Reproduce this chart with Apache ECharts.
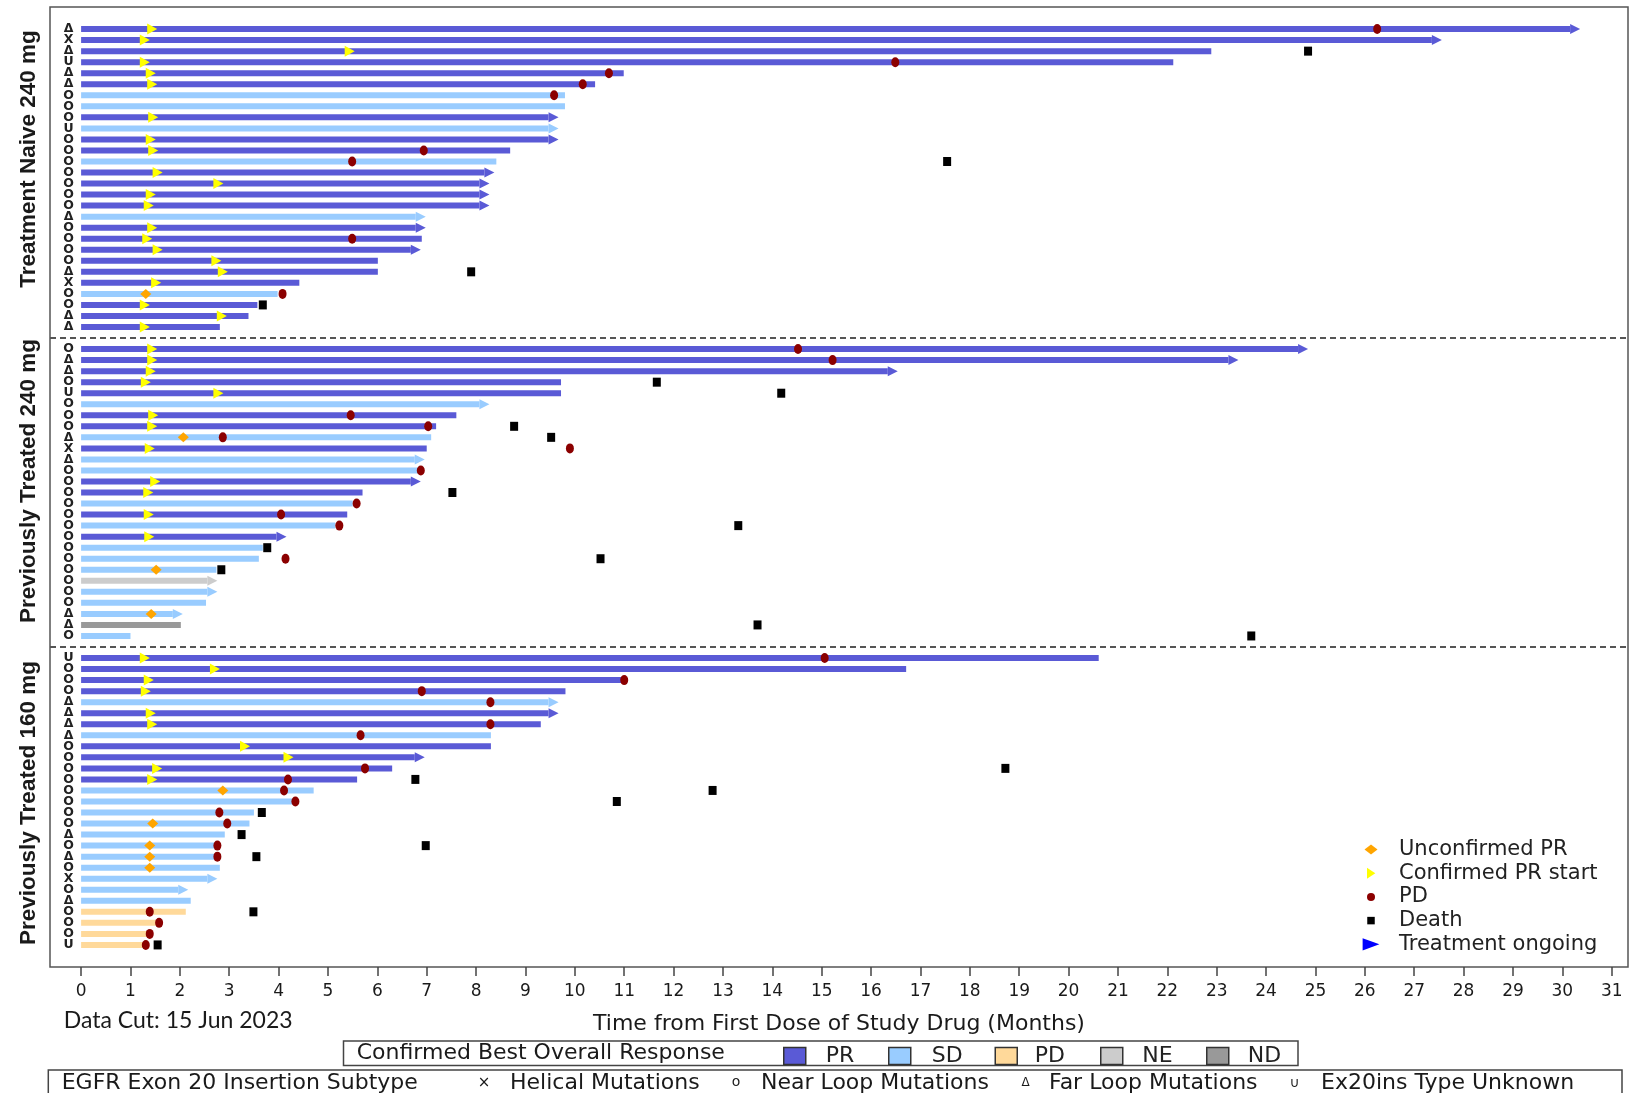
<!DOCTYPE html>
<html>
<head>
<meta charset="utf-8">
<script src="https://cdn.jsdelivr.net/npm/echarts@6/dist/echarts.min.js"></script>
<style>
html,body{margin:0;padding:0;background:#fff;}
#chart{width:1630px;height:1093px;}
</style>
</head>
<body>
<div id="chart"></div>
<script>
// ================= DATA =================
const panelTitles = ['Treatment Naive 240 mg', 'Previously Treated 240 mg', 'Previously Treated 160 mg'];
const monthTicks = [0,1,2,3,4,5,6,7,8,9,10,11,12,13,14,15,16,17,18,19,20,21,22,23,24,25,26,27,28,29,30,31];
const responseTypes = ['PR', 'SD', 'PD', 'NE', 'ND'];

// --- Panel 1: Treatment Naive 240 mg ---
const subtypeA = ['Δ','X','Δ','U','Δ','Δ','O','O','O','U','O','O','O','O','O','O','O','Δ','O','O','O','O','Δ','X','O','O','Δ','Δ'];
const responseA = ['PR','PR','PR','PR','PR','PR','SD','SD','PR','SD','PR','PR','SD','PR','PR','PR','PR','SD','PR','PR','PR','PR','PR','PR','SD','PR','PR','PR'];
const durationA = [30.36,27.56,22.89,22.12,10.99,10.41,9.80,9.80,9.67,9.67,9.67,8.69,8.41,8.37,8.27,8.27,8.27,6.98,6.98,6.90,6.88,6.01,6.01,4.42,3.98,3.57,3.39,2.81];
const ongoingA = [1,1,0,0,0,0,0,0,1,1,1,0,0,1,1,1,1,1,1,0,1,0,0,0,0,0,0,0];
const confirmedPRA = [1.44,1.29,5.44,1.29,1.41,1.44,null,null,1.46,null,1.41,1.46,null,1.55,2.78,1.41,1.37,null,1.44,1.34,1.55,2.74,2.87,1.52,null,1.29,2.85,1.29];
const unconfirmedPRA = [[24,1.31]];
const progressionA = [[0,26.25],[3,16.49],[4,10.69],[5,10.16],[6,9.58],[11,6.94],[12,5.49],[19,5.49],[24,4.08]];
const deathA = [[2,24.85],[12,17.54],[22,7.90],[25,3.68]];

// --- Panel 2: Previously Treated 240 mg ---
const subtypeB = ['O','Δ','Δ','O','U','O','O','O','Δ','X','Δ','O','O','O','O','O','O','O','O','O','O','O','O','O','Δ','Δ','O'];
const responseB = ['PR','PR','PR','PR','PR','SD','PR','PR','SD','PR','SD','SD','PR','PR','SD','PR','SD','PR','SD','SD','SD','NE','SD','SD','SD','ND','SD'];
const durationB = [24.85,23.44,16.54,9.72,9.72,8.27,7.60,7.19,7.09,7.00,6.96,6.85,6.88,5.70,5.50,5.39,5.15,4.16,3.68,3.60,2.74,2.76,2.76,2.53,2.06,2.02,1.00];
const ongoingB = [1,1,1,0,0,1,0,0,0,0,1,0,1,0,0,0,0,1,0,0,0,1,1,0,1,0,0];
const confirmedPRB = [1.44,1.44,1.41,1.31,2.78,null,1.46,1.44,null,1.39,null,null,1.50,1.36,null,1.37,null,1.38,null,null,null,null,null,null,null,null,null];
const unconfirmedPRB = [[8,2.07],[20,1.52],[24,1.42]];
const progressionB = [[0,14.52],[1,15.22],[6,5.46],[7,7.03],[8,2.87],[9,9.90],[11,6.88],[14,5.58],[15,4.05],[16,5.23],[19,4.14]];
const deathB = [[3,11.66],[4,14.18],[7,8.77],[8,9.52],[13,7.52],[16,13.31],[18,3.77],[19,10.52],[20,2.84],[25,13.70],[26,23.70]];

// --- Panel 3: Previously Treated 160 mg ---
const subtypeC = ['U','O','O','O','Δ','Δ','Δ','Δ','O','O','O','O','O','O','O','O','Δ','O','Δ','O','X','O','Δ','O','O','O','U'];
const responseC = ['PR','PR','PR','PR','SD','PR','PR','SD','PR','PR','PR','PR','SD','SD','SD','SD','SD','SD','SD','SD','SD','SD','SD','PD','PD','PD','PD'];
const durationC = [20.61,16.71,11.03,9.81,9.67,9.67,9.31,8.30,8.30,6.96,6.30,5.59,4.71,4.30,3.50,3.41,2.91,2.75,2.75,2.81,2.76,2.17,2.22,2.12,1.55,1.35,1.30];
const ongoingC = [0,0,0,0,1,1,0,0,0,1,0,0,0,0,0,0,0,0,0,0,1,1,0,0,0,0,0];
const confirmedPRC = [1.29,2.71,1.37,1.31,null,1.41,1.44,null,3.32,4.20,1.54,1.44,null,null,null,null,null,null,null,null,null,null,null,null,null,null,null];
const unconfirmedPRC = [[12,2.87],[15,1.45],[17,1.39],[18,1.39],[19,1.39]];
const progressionC = [[0,15.06],[2,11.00],[3,6.90],[4,8.29],[6,8.29],[7,5.66],[10,5.75],[11,4.19],[12,4.11],[13,4.34],[14,2.80],[15,2.96],[17,2.76],[18,2.76],[23,1.39],[24,1.58],[25,1.39],[26,1.31]];
const deathC = [[10,18.72],[11,6.77],[12,12.79],[13,10.85],[14,3.66],[16,3.25],[17,6.98],[18,3.55],[23,3.49],[26,1.55]];

// ================= BUILD =================
const panels = [
  {sub: subtypeA, resp: responseA, dur: durationA, ong: ongoingA, cpr: confirmedPRA, upr: unconfirmedPRA, pd: progressionA, death: deathA},
  {sub: subtypeB, resp: responseB, dur: durationB, ong: ongoingB, cpr: confirmedPRB, upr: unconfirmedPRB, pd: progressionB, death: deathB},
  {sub: subtypeC, resp: responseC, dur: durationC, ong: ongoingC, cpr: confirmedPRC, upr: unconfirmedPRC, pd: progressionC, death: deathC}
];
const respColors = {PR: '#5a5ad6', SD: '#99ccff', PD: '#ffd99a', NE: '#cccccc', ND: '#999999'};
const respSeriesName = {PR: 'PR', SD: 'SD', PD: 'PD response', NE: 'NE', ND: 'ND'};

// each panel starts after previous panel plus one gap row
const rowStart = [];
let acc = 0;
panels.forEach((p, k) => { rowStart.push(acc); acc += p.sub.length + 1; });
const dividerRows = [rowStart[1] - 1, rowStart[2] - 1];

const rowLabel = {};
const barData = {PR: [], SD: [], PD: [], NE: [], ND: []};
const arrowData = [];
const cprData = [], uprData = [], pdData = [], deathData = [];
panels.forEach((p, k) => {
  const off = rowStart[k];
  p.sub.forEach((s, i) => { rowLabel[off + i] = s; });
  p.resp.forEach((r, i) => {
    barData[r].push([p.dur[i], off + i, p.ong[i]]);
    if (p.ong[i]) arrowData.push({value: [p.dur[i], off + i], itemStyle: {color: respColors[r]}});
  });
  p.cpr.forEach((m, i) => { if (m != null) cprData.push([m, off + i]); });
  p.upr.forEach(e => uprData.push([e[1], off + e[0]]));
  p.pd.forEach(e => pdData.push([e[1], off + e[0]]));
  p.death.forEach(e => deathData.push([e[1], off + e[0]]));
});

const BAR_H = 6, HEAD_L = 10, HEAD_H = 10;
function renderBar(params, api) {
  const end = api.value(0), y = api.value(1), ong = api.value(2);
  const a = api.coord([0, y]), b = api.coord([end, y]);
  const x1 = ong ? b[0] - HEAD_L : b[0];
  return {type: 'rect', shape: {x: a[0], y: a[1] - BAR_H / 2, width: Math.max(0, x1 - a[0]), height: BAR_H},
          style: {fill: api.visual('color')}};
}
function renderArrow(params, api) {
  const b = api.coord([api.value(0), api.value(1)]);
  return {type: 'polygon', shape: {points: [[b[0] - HEAD_L, b[1] - HEAD_H / 2], [b[0], b[1]], [b[0] - HEAD_L, b[1] + HEAD_H / 2]]},
          style: {fill: api.visual('color')}};
}

const FONT = 'DejaVu Sans';
const series = [];
responseTypes.forEach(r => {
  series.push({
    type: 'custom', name: respSeriesName[r], renderItem: renderBar,
    encode: {x: 0, y: 1}, data: barData[r], itemStyle: {color: respColors[r]}, z: 2, silent: true
  });
});
series.push({
  type: 'custom', name: 'Treatment ongoing', renderItem: renderArrow,
  encode: {x: 0, y: 1}, data: arrowData, z: 2, silent: true, itemStyle: {color: '#0000ff'}
});
series.push({type: 'scatter', name: 'Confirmed PR start', data: cprData, symbol: 'triangle', symbolRotate: -90,
  symbolSize: [11, 10], itemStyle: {color: '#ffff00', opacity: 1}, z: 3, silent: true});
series.push({type: 'scatter', name: 'Unconfirmed PR', data: uprData, symbol: 'diamond',
  symbolSize: [11, 10], itemStyle: {color: '#ffa500', opacity: 1}, z: 3, silent: true});
series.push({type: 'scatter', name: 'PD', data: pdData, symbol: 'circle',
  symbolSize: [8, 10], itemStyle: {color: '#8b0000', opacity: 1}, z: 4, silent: true});
series.push({type: 'scatter', name: 'Death', data: deathData, symbol: 'rect',
  symbolSize: [8, 9], itemStyle: {color: '#000000', opacity: 1}, z: 4, silent: true,
  markLine: {silent: true, symbol: 'none', label: {show: false},
    lineStyle: {color: '#555', type: [6, 4], width: 2},
    data: dividerRows.map(v => ({yAxis: v}))}
});

const pad = 'M0,0 M18,18 ';
const legendRight = {
  orient: 'vertical', left: 1362, top: 839, padding: 0, itemGap: 2.7,
  itemWidth: 18, itemHeight: 18, selectedMode: false, symbolRotate: 0,
  textStyle: {fontFamily: FONT, fontSize: 21, color: '#222', lineHeight: 18, padding: [0, 0, 0, 14]},
  data: [
    {name: 'Unconfirmed PR', icon: 'path://' + pad + 'M2.5,9 L9,4 L15.5,9 L9,14 Z'},
    {name: 'Confirmed PR start', icon: 'path://' + pad + 'M5,3.5 L13.3,9 L5,14.5 Z'},
    {name: 'PD', icon: 'path://' + pad + 'M9,5 A4,4 0 1 1 9,13 A4,4 0 1 1 9,5 Z'},
    {name: 'Death', icon: 'path://' + pad + 'M5.25,5.25 L12.75,5.25 L12.75,12.75 L5.25,12.75 Z'},
    {name: 'Treatment ongoing', icon: 'path://' + pad + 'M0.6,2.85 L17.4,9 L0.6,15.15 Z', itemStyle: {color: '#0000ff'}}
  ]
};
const swLeft = [783, 888, 994.5, 1100, 1206];
const txtPad = [15, 16, 12.5, 14.5, 14];
const respLegends = responseTypes.map((r, i) => ({
  left: swLeft[i], top: 1045, padding: 0, itemWidth: 22, itemHeight: 17, selectedMode: false,
  textStyle: {fontFamily: FONT, fontSize: 22, color: '#222', lineHeight: 17, padding: [0, 0, 0, txtPad[i]]},
  itemStyle: {borderColor: '#333', borderWidth: 1.5},
  formatter: () => r,
  data: [{name: respSeriesName[r], icon: 'rect'}]
}));

const txt = (text, x, y, font, align, extra) => Object.assign({
  type: 'text', x: x, y: y,
  style: {text: text, font: font, fill: '#1a1a1a', align: align || 'left', textAlign: align || 'left',
          verticalAlign: 'middle', textVerticalAlign: 'middle'}
}, extra || {});

const titleCenters = [159, 481, 803];
const graphics = [];
panelTitles.forEach((t, k) => graphics.push(txt(t, 29, titleCenters[k], 'bold 22.5px "Liberation Sans"', 'center', {rotation: Math.PI / 2})));
graphics.push(txt('Data Cut: 15 Jun 2023', 63.8, 1021, '23px Lato', 'left'));
graphics.push({type: 'rect', shape: {x: 343.5, y: 1041, width: 954.5, height: 24.5}, style: {fill: 'none', stroke: '#444', lineWidth: 1.5}});
graphics.push(txt('Confirmed Best Overall Response', 356.7, 1053.5, '22px "' + FONT + '"', 'left'));
graphics.push({type: 'rect', shape: {x: 48.3, y: 1070, width: 1573.7, height: 40}, style: {fill: 'none', stroke: '#444', lineWidth: 1.5}});
graphics.push(txt('EGFR Exon 20 Insertion Subtype', 61.7, 1083, '22px "' + FONT + '"', 'left'));
graphics.push(txt('×', 484, 1083, '15px "' + FONT + '"', 'center'));
graphics.push(txt('Helical Mutations', 510, 1083, '22px "' + FONT + '"', 'left'));
graphics.push(txt('o', 736, 1082, '14px "' + FONT + '"', 'center'));
graphics.push(txt('Near Loop Mutations', 761, 1083, '22px "' + FONT + '"', 'left'));
graphics.push(txt('Δ', 1025.5, 1083, '12px "' + FONT + '"', 'center'));
graphics.push(txt('Far Loop Mutations', 1049, 1083, '22px "' + FONT + '"', 'left'));
graphics.push(txt('∪', 1294.5, 1083, '14px "' + FONT + '"', 'center'));
graphics.push(txt('Ex20ins Type Unknown', 1321, 1083, '22px "' + FONT + '"', 'left'));

const option = {
  animation: false,
  backgroundColor: '#ffffff',
  grid: {left: 50, right: 2, top: 7, bottom: 126, show: true, borderColor: '#555', borderWidth: 1.5, containLabel: false},
  xAxis: {
    type: 'value', min: -0.63, max: 31.33, position: 'bottom',
    axisLine: {show: false, onZero: false},
    axisTick: {show: true, length: 9, inside: false, customValues: monthTicks, lineStyle: {color: '#444', width: 1.5}},
    axisLabel: {customValues: monthTicks, margin: 16, fontFamily: FONT, fontSize: 17, color: '#1a1a1a'},
    splitLine: {show: false},
    name: 'Time from First Dose of Study Drug (Months)', nameLocation: 'middle', nameGap: 46,
    nameTextStyle: {fontFamily: FONT, fontSize: 22, color: '#1a1a1a'}
  },
  yAxis: {
    type: 'value', inverse: true, min: -2, max: 85, interval: 1,
    axisLine: {show: false, onZero: false}, axisTick: {show: false}, splitLine: {show: false},
    axisLabel: {inside: true, margin: 18.6, align: 'center', fontFamily: FONT, fontWeight: 'bold', fontSize: 12.5, color: '#222',
      formatter: v => rowLabel[v] || ''}
  },
  legend: [legendRight].concat(respLegends),
  graphic: {elements: graphics},
  series: series
};

const chart = echarts.init(document.getElementById('chart'), null, {renderer: 'canvas'});
chart.setOption(option);
</script>
</body>
</html>
